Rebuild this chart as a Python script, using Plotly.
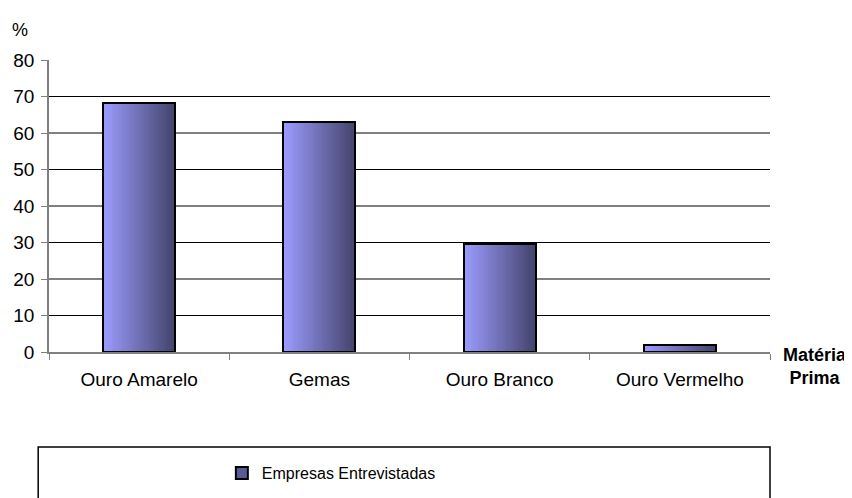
import plotly.graph_objects as go
import plotly.colors as pc

# Data
categories = ['Ouro Amarelo', 'Gemas', 'Ouro Branco', 'Ouro Vermelho']
empresas = [68.3, 63.0, 29.5, 2.0]
y_ticks = [0, 10, 20, 30, 40, 50, 60, 70, 80]
grid_vals = [10, 20, 30, 40, 50, 60, 70]

font = 'Liberation Sans, Arial, sans-serif'
bar_w = 0.4
n_strips = 40
light, dark = '#9c9cff', '#45456e'

fig = go.Figure()

# base bar (also the legend entry)
fig.add_trace(go.Bar(
    x=categories, y=empresas, name='Empresas Entrevistadas', width=bar_w,
    marker=dict(color='#5a5a96', line=dict(color='black', width=2)),
))

# horizontal gradient made from thin strips
for i in range(n_strips):
    c = pc.find_intermediate_color(pc.hex_to_rgb(light), pc.hex_to_rgb(dark), i / (n_strips - 1))
    fig.add_trace(go.Bar(
        x=categories, y=empresas, width=bar_w / n_strips * 1.05,
        offset=-bar_w / 2 + i * bar_w / n_strips,
        marker=dict(color='rgb(%d,%d,%d)' % tuple(int(v) for v in c), line=dict(width=0)),
        showlegend=False, hoverinfo='skip',
    ))

# outline on top
fig.add_trace(go.Bar(
    x=categories, y=empresas, width=bar_w,
    marker=dict(color='rgba(0,0,0,0)', line=dict(color='black', width=2)),
    showlegend=False, hoverinfo='skip',
))

# gridlines (none at the top value)
for g in grid_vals:
    fig.add_shape(type='line', xref='paper', x0=0, x1=1, yref='y', y0=g, y1=g,
                  line=dict(color='black', width=1), layer='below')

# legend frame
fig.add_shape(type='rect', xref='paper', yref='paper', x0=-0.015, x1=1.0, y0=-0.6, y1=-0.325,
              line=dict(color='black', width=1.5))

fig.update_layout(
    width=852, height=498,
    margin=dict(l=41, r=90, t=52, b=154),
    plot_bgcolor='white', paper_bgcolor='white',
    barmode='overlay', bargap=0,
    font=dict(family=font, size=19, color='black'),
    showlegend=True,
    legend=dict(orientation='h', xref='container', yref='container', x=0.251, xanchor='left',
                y=0.066, yanchor='middle', font=dict(size=16), bgcolor='rgba(0,0,0,0)'),
    xaxis=dict(
        showline=True, linecolor='#808080', linewidth=1.5, automargin=False,
        ticks='outside', tickson='boundaries', ticklen=6, tickcolor='#808080',
        showgrid=False, ticklabelstandoff=9,
    ),
    yaxis=dict(
        range=[0, 80], tickvals=y_ticks, showgrid=False, zeroline=False, automargin=False,
        showline=True, linecolor='#808080', linewidth=1.5,
        ticks='outside', ticklen=6, tickcolor='#808080', ticklabelstandoff=3,
    ),
    annotations=[
        dict(text='%', xref='paper', yref='paper', x=-0.04, y=1.103, showarrow=False,
             xanchor='center', yanchor='middle', font=dict(size=18)),
        dict(text='<b>Matéria<br>Prima</b>', xref='paper', yref='paper', x=1.062, y=0.03,
             showarrow=False, xanchor='center', yanchor='top', font=dict(size=18)),
    ],
)

fig.write_html("out.html")
